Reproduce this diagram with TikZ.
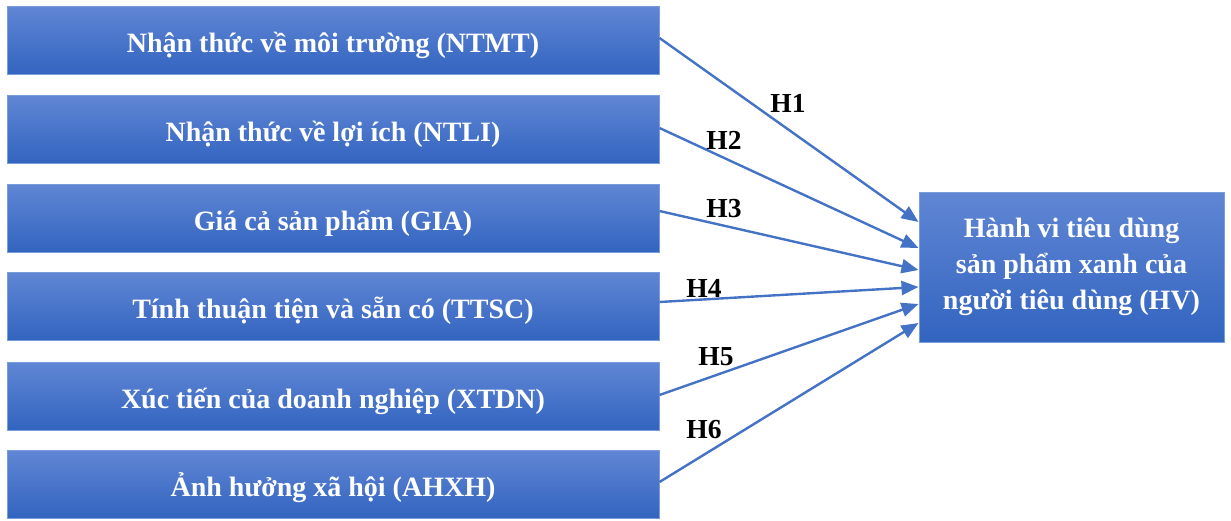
\documentclass[tikz,border=0pt]{standalone}
\usepackage{fontspec}
\setmainfont{Liberation Serif}
\usetikzlibrary{arrows.meta}
\definecolor{boxtop}{RGB}{96,134,212}
\definecolor{boxbot}{RGB}{50,100,192}
\definecolor{boxedge}{RGB}{120,156,220}
\definecolor{arrowblue}{RGB}{68,114,196}
\newcommand{\boxtext}[1]{\raisebox{-12pt}[0pt][0pt]{#1}}
\tikzset{
  x=1pt, y=-1pt,
  factorbox/.style={rectangle, draw=boxedge, line width=1pt, top color=boxtop, bottom color=boxbot,
    minimum width=652pt, minimum height=68pt, inner sep=0pt, text=white,
    font=\fontsize{28}{34}\selectfont\bfseries},
  resultbox/.style={rectangle, draw=boxedge, line width=1pt, top color=boxtop, bottom color=boxbot,
    minimum width=305pt, minimum height=150pt, inner sep=0pt, text=white, align=center,
    font=\fontsize{28}{36}\selectfont\bfseries},
  hyp/.style={draw=arrowblue, line width=2.4pt, -{Triangle[length=17pt,width=14pt]}},
  hlabel/.style={text=black, inner sep=0pt, font=\fontsize{27.5}{32}\selectfont\bfseries},
}
\begin{document}
\begin{tikzpicture}
\useasboundingbox (0,0) rectangle (1231,520);
\node[factorbox] (n1) at (333,40.5) {\boxtext{Nhận thức về môi trường (NTMT)}};
\node[factorbox] (n2) at (333,129.5) {\boxtext{Nhận thức về lợi ích (NTLI)}};
\node[factorbox] (n3) at (333,218) {\boxtext{Giá cả sản phẩm (GIA)}};
\node[factorbox] (n4) at (333,306.5) {\boxtext{Tính thuận tiện và sẵn có (TTSC)}};
\node[factorbox] (n5) at (333,396) {\boxtext{Xúc tiến của doanh nghiệp (XTDN)}};
\node[factorbox] (n6) at (333,484.5) {\boxtext{Ảnh hưởng xã hội (AHXH)}};
\node[resultbox] (hv) at (1071.5,267) {Hành vi tiêu dùng\\sản phẩm xanh của\\người tiêu dùng (HV)};
\draw[hyp] ([yshift=2.5pt]n1.east) -- ([yshift=45pt]hv.west);
\draw[hyp] ([yshift=1.5pt]n2.east) -- ([yshift=19pt]hv.west);
\draw[hyp] ([yshift=7pt]n3.east) -- ([yshift=-3pt]hv.west);
\draw[hyp] ([yshift=4.5pt]n4.east) -- ([yshift=-20pt]hv.west);
\draw[hyp] ([yshift=1pt]n5.east) -- ([yshift=-37pt]hv.west);
\draw[hyp] ([yshift=2.5pt]n6.east) -- ([yshift=-56pt]hv.west);
\node[hlabel] (h1) at (788,103) {H1};
\node[hlabel] (h2) at (724,140) {H2};
\node[hlabel] (h3) at (724,209) {H3};
\node[hlabel] (h4) at (704,288) {H4};
\node[hlabel] (h5) at (716,357) {H5};
\node[hlabel] (h6) at (704,430) {H6};
\end{tikzpicture}
\end{document}
